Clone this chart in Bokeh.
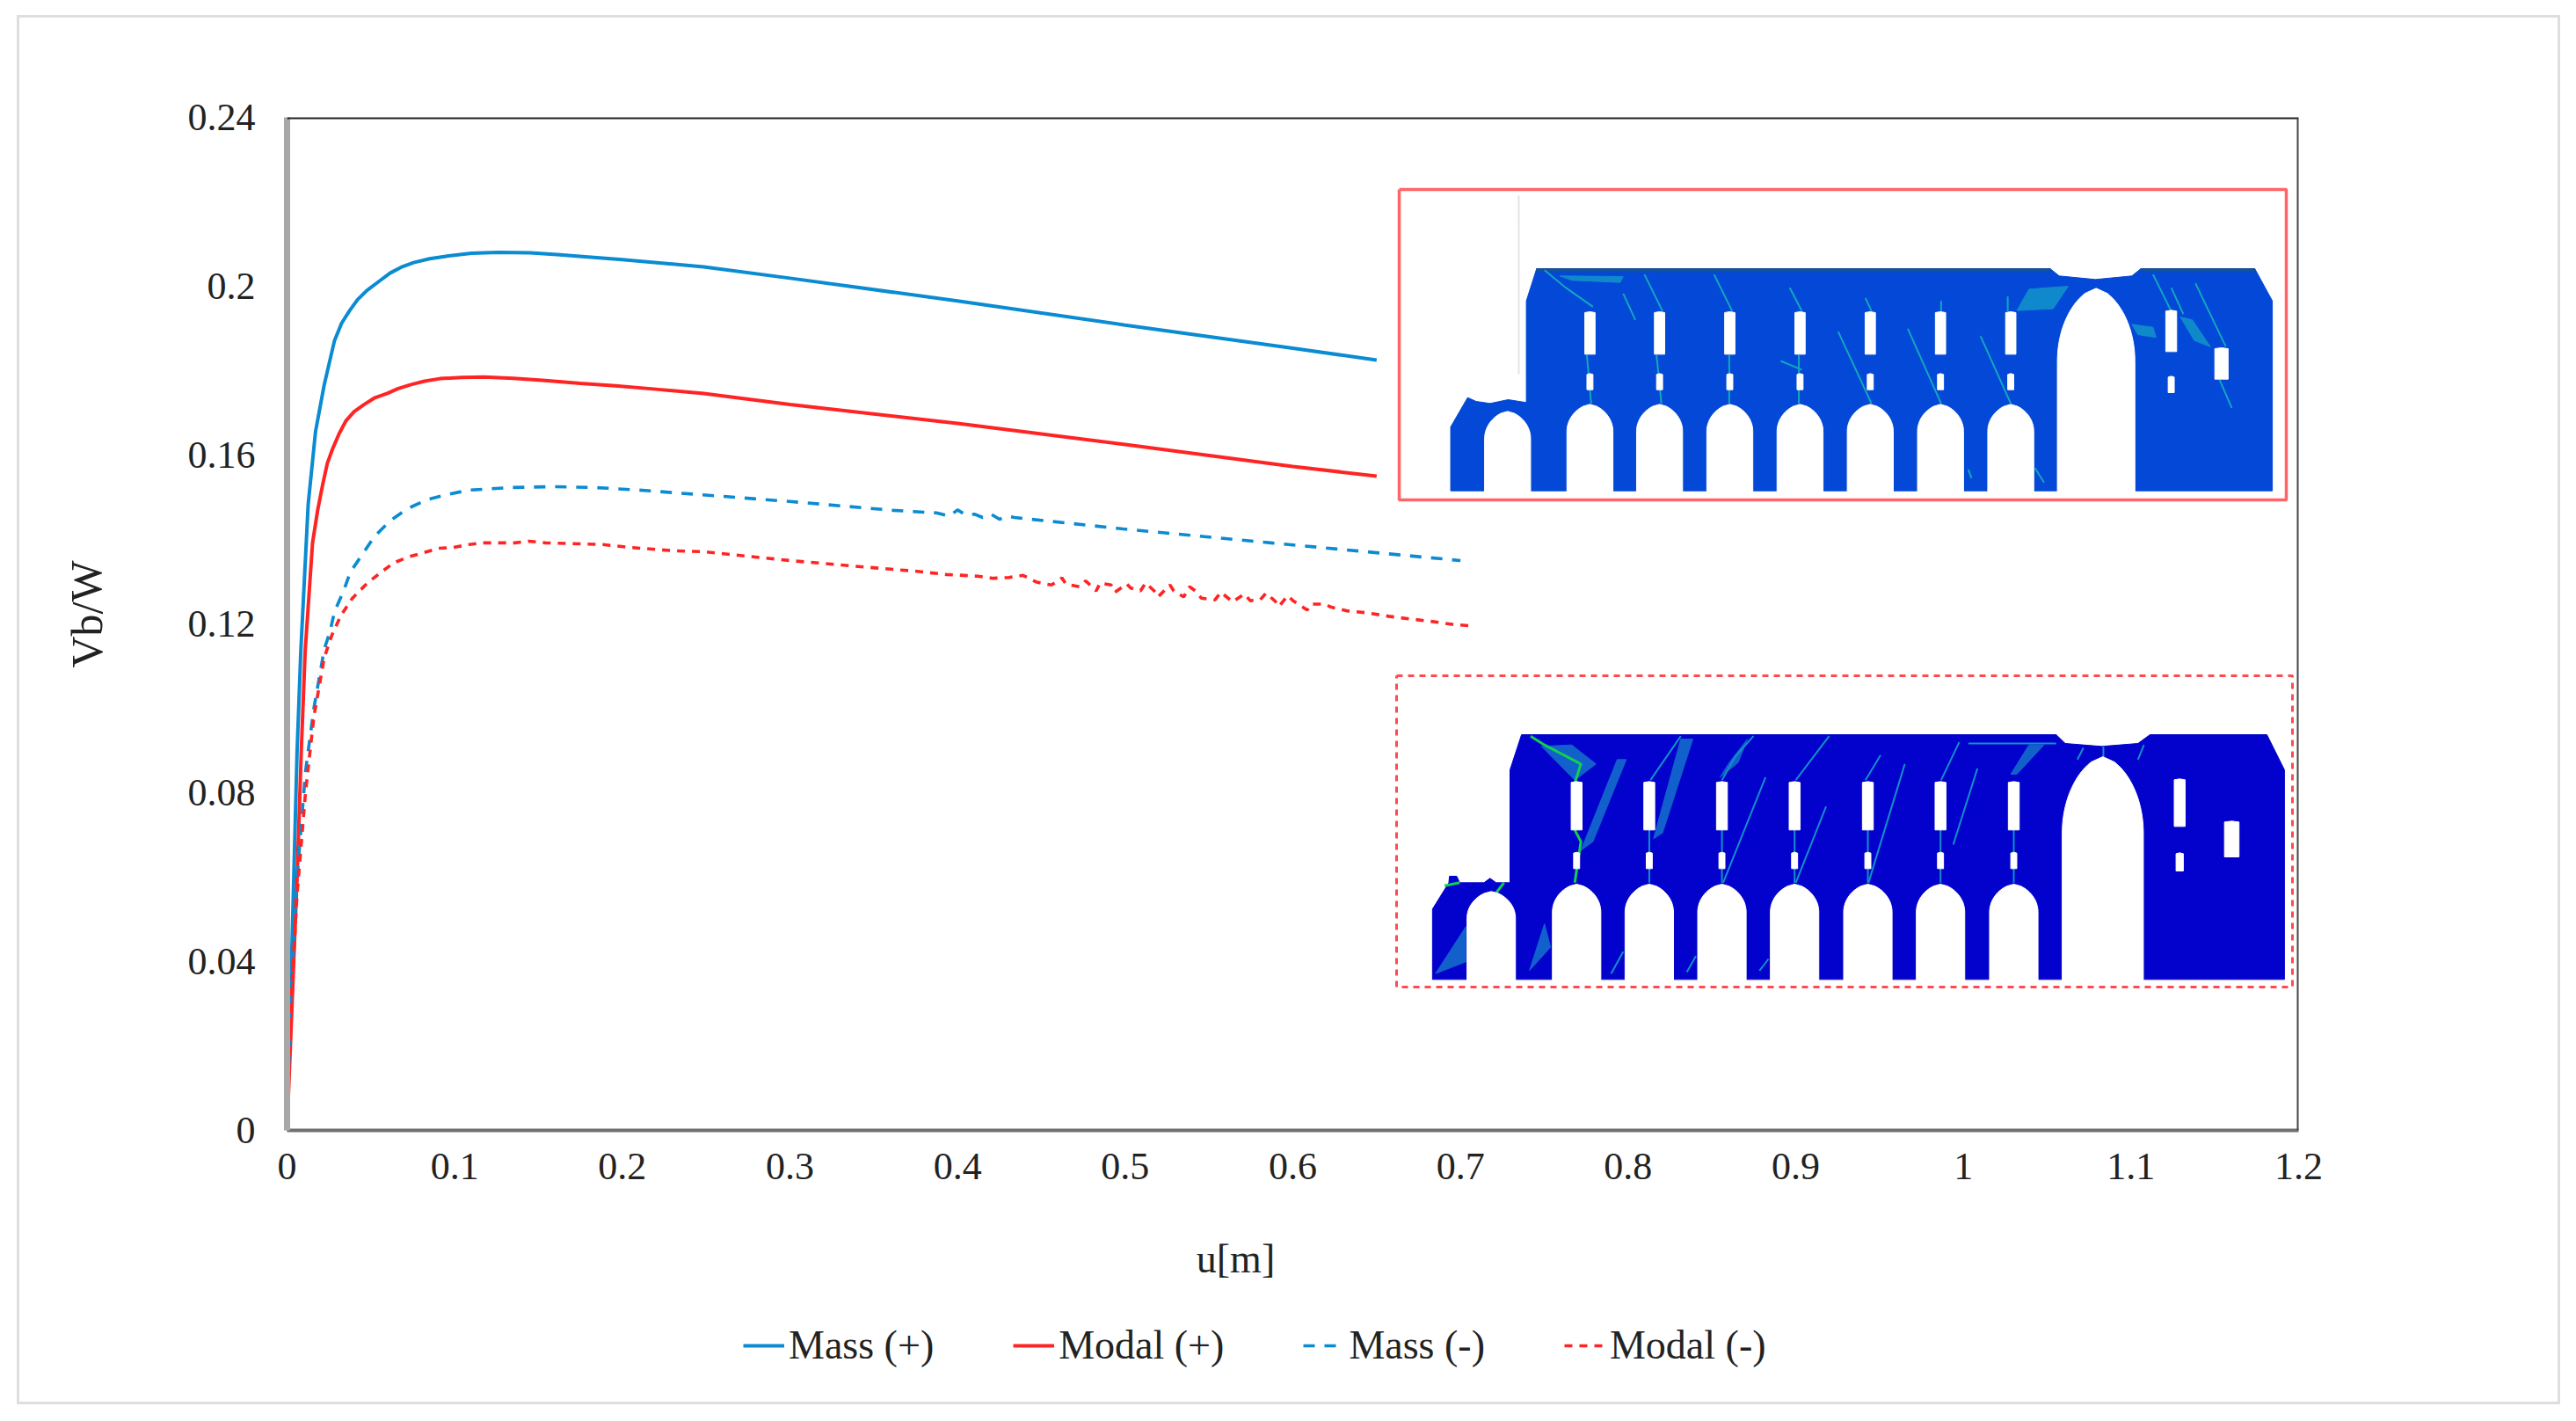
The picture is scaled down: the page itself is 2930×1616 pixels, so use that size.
from bokeh.plotting import figure
from bokeh.layouts import column, row
from bokeh.models import (Range1d, FixedTicker, Span, Label, Legend, LegendItem)
from bokeh.embed import file_html
from bokeh.resources import INLINE

# ---------- chart data ----------
x_ticks = [0, 0.1, 0.2, 0.3, 0.4, 0.5, 0.6, 0.7, 0.8, 0.9, 1, 1.1, 1.2]
x_tick_labels = ["0", "0.1", "0.2", "0.3", "0.4", "0.5", "0.6", "0.7", "0.8", "0.9", "1", "1.1", "1.2"]
y_ticks = [0, 0.04, 0.08, 0.12, 0.16, 0.2, 0.24]
y_tick_labels = ["0", "0.04", "0.08", "0.12", "0.16", "0.2", "0.24"]

mass_plus_u = [0, .002, .004, .006, .0082, .0126, .017, .0222, .0283, .0325, .0371, .042, .0476, .055, .0614, .068, .0755,
               .085, .0948, .11, .126, .145, .161, .2, .2486, .3, .4, .5, .6, .65]
mass_plus_v = [0, .03, .06, .09, .1135, .1483, .1656, .1767, .1871, .1912, .1941, .1968, .199, .2012, .2031, .2045, .2056,
               .2065, .2071, .2078, .208, .2079, .2075, .2063, .2046, .2019, .1965, .1908, .1853, .1825]

modal_plus_u = [0, .003, .006, .0085, .0108, .0152, .0182, .0213, .024, .0272, .031, .0351, .04, .0457, .052, .0598, .066,
                .0739, .082, .0912, .104, .1175, .135, .1524, .175, .196, .22, .2486, .3, .4, .5, .6, .65]
modal_plus_v = [0, .03, .06, .09, .1135, .1392, .1468, .1531, .158, .1615, .165, .1681, .1703, .1719, .1735, .1746, .1757,
                .1767, .1775, .1781, .1784, .1785, .1782, .1777, .177, .1764, .1756, .1746, .172, .1675, .1625, .1573, .155]

mass_minus_u = [0, .002, .006, .011, .016, .0222, .0257, .0283, .0336, .0378, .045, .0519, .0614, .0718, .0834,
                .0949, .1086, .1332, .1584, .184, .2102, .247, .3, .3617, .3875, .395, .40, .405, .41, .415,
                .42, .425, .43, .434, .4987, .587, .70]
mass_minus_v = [0, .03, .06, .085, .1, .114, .1183, .1229, .1277, .1323, .1365, .1406, .1444, .1473, .1494,
                .1506, .1517, .1523, .1525, .1523, .1517, .1506, .149, .1469, .1463, .1455, .147, .1458, .146, .1452,
                .146, .1448, .1455, .1452, .1425, .1392, .135]

modal_minus_u = [0, .002, .006, .011, .016, .0222, .0267, .032, .0388, .0477, .0556, .0634, .0718, .0818, .0902,
                 .0991, .1086, .1164, .1262, .1358, .1447, .154, .17, .1883, .205, .2312, .2486, .3, .3557, .3745,
                 .3933, .412, .4212, .4306, .439, .4471, .456, .4623, .4647, .4728, .4764, .4827, .485, .4916,
                 .4939, .5009, .5033, .5091, .5122, .5173, .5196, .5267, .529, .5349, .5384, .5419, .5454, .5536,
                 .5571, .5641, .5711, .5746, .5805, .584, .5894, .5917, .5969, .6004, .6086, .6109, .6191, .6226,
                 .632, .6448, .6572, .6694, .6823, .6951, .7068]
modal_minus_v = [0, .028, .056, .08, .098, .112, .1173, .1219, .126, .1296, .1321, .1344, .1358, .1369, .1379,
                 .1381, .1388, .1392, .1392, .1392, .1396, .1392, .139, .1388, .1381, .1373, .1371, .135, .1331, .1325,
                 .1317, .1313, .1308, .131, .1315, .1299, .1292, .1309, .1294, .1288, .1302, .1278, .1297, .1292,
                 .1275, .1295, .1285, .1278, .1297, .1278, .1264, .1292, .1278, .1264, .1288, .1278, .1261, .1257,
                 .1275, .1252, .1271, .1255, .1257, .1273, .1254, .1241, .1267, .1254, .1233, .1247, .1247, .124,
                 .1231, .1226, .1218, .1212, .1206, .1199, .1195]

series_names = ["Mass (+)", "Modal (+)", "Mass (-)", "Modal (-)"]
x_title, y_title = "u[m]", "Vb/W"
BLUE, RED = "#0a8bd2", "#ff2424"
FONT = "Liberation Serif"

STRIP_W = 130
p = figure(frame_width=2288, frame_height=1152, min_border_left=304 - STRIP_W, min_border_right=295,
           min_border_top=113, min_border_bottom=85, output_backend="svg", toolbar_location=None,
           x_range=Range1d(0, 1.2), y_range=Range1d(0, 0.24), background_fill_color="white",
           border_fill_color="white", outline_line_color=None)
p.xgrid.visible = False
p.ygrid.visible = False
p.extra_x_ranges["px_x"] = Range1d(326, 2614)
p.extra_y_ranges["px_y"] = Range1d(1285, 133)

for ax, ticks, labs in ((p.xaxis[0], x_ticks, x_tick_labels), (p.yaxis[0], y_ticks, y_tick_labels)):
    ax.ticker = FixedTicker(ticks=ticks)
    ax.major_label_overrides = dict(zip(ticks, labs))
    ax.major_tick_line_color = None
    ax.minor_tick_line_color = None
    ax.major_label_text_font = FONT
    ax.major_label_text_font_size = "44px"
    ax.major_label_text_color = "#222222"
p.xaxis[0].axis_line_color = "#707070"
p.xaxis[0].axis_line_width = 4
p.xaxis[0].major_label_standoff = 20
p.yaxis[0].axis_line_color = "#a8a8a8"
p.yaxis[0].axis_line_width = 7
p.yaxis[0].major_label_standoff = 30
p.add_layout(Span(location=0.24, dimension="width", line_color="#222222", line_width=4))
p.add_layout(Span(location=1.2, dimension="height", line_color="#444444", line_width=4))


# ---------- inset drawings (pictures in the original), in reference pixels ----------
def arch(cx, hw, apex, spring, bottom):
    n = 14
    up = [(cx - hw * (1 - (i / n) ** 2.0) ** 0.62, spring - (spring - apex) * i / n) for i in range(n + 1)]
    down = [(cx + hw * (1 - (i / n) ** 2.0) ** 0.62, spring - (spring - apex) * i / n) for i in range(n, -1, -1)]
    return [(cx - hw, bottom)] + up + down + [(cx + hw, bottom)]


def rect(cx, w, y0, y1):
    return [(cx - w / 2, y1), (cx - w / 2, y0 + 3), (cx, y0), (cx + w / 2, y0 + 3), (cx + w / 2, y1)]


def draw(shapes, color, tr):
    xs, ys = [], []
    for s in shapes:
        pts = [tr(a, b) for a, b in s]
        xs.append([a for a, _ in pts])
        ys.append([b for _, b in pts])
    p.patches(xs, ys, fill_color=color, line_color=color, line_width=1, x_range_name="px_x", y_range_name="px_y")


def streaks(lines, color, width, tr):
    xs, ys = [], []
    for s in lines:
        pts = [tr(a, b) for a, b in s]
        xs.append([a for a, _ in pts])
        ys.append([b for _, b in pts])
    p.multi_line(xs, ys, line_color=color, line_width=width, x_range_name="px_x", y_range_name="px_y")


top = lambda a, b: (1560 + a / 1.452, 190 + b / 3)
bot = lambda a, b: (1560 + a / 1.452, 740 + b / 3)

# top inset
top_outline = [(130, 1103), (130, 885), (158, 785), (172, 798), (195, 805), (225, 792), (255, 802), (255, 455),
               (272, 345), (1120, 345), (1135, 370), (1195, 382), (1255, 370), (1270, 345), (1458, 345), (1487, 455),
               (1487, 1103)]
draw([top_outline], "#0348d6", top)
draw([[(272, 345), (1120, 345), (1120, 355), (272, 355)], [(1270, 345), (1458, 345), (1458, 355), (1270, 355)]],
     "#15509c", top)
draw([[(1085, 415), (1150, 405), (1125, 482), (1065, 488)], [(1335, 510), (1355, 520), (1385, 612), (1358, 590)],
      [(1255, 535), (1290, 545), (1295, 580), (1265, 570)], [(310, 370), (415, 372), (410, 392), (330, 385)]],
     "#1088cc", top)
streaks([[(285, 350), (320, 410), (365, 475)], [(450, 365), (480, 490)], [(565, 365), (595, 490)],
         [(690, 410), (710, 490)], [(815, 445), (825, 490)], [(940, 455), (940, 490)], [(1050, 440), (1050, 490)],
         [(885, 550), (940, 805)], [(1005, 575), (1055, 805)], [(770, 560), (825, 805)], [(355, 640), (362, 805)],
         [(470, 640), (478, 805)], [(590, 640), (590, 805)], [(705, 640), (705, 805)], [(1290, 365), (1320, 490)],
         [(1360, 395), (1410, 610)], [(1400, 725), (1420, 820)], [(1320, 410), (1340, 500)],
         [(1095, 1025), (1110, 1075)], [(985, 1030), (990, 1060)], [(415, 430), (435, 520)], [(675, 660), (710, 690)]],
        "#12a8c0", 2, top)
top_holes = [arch(224, 38, 832, 925, 1110)]
for c in (360, 475, 591, 707, 823, 939, 1055):
    top_holes.append(arch(c, 38, 808, 900, 1110))
    top_holes.append(rect(c, 17, 492, 637))
    top_holes.append(rect(c, 10, 703, 758))
top_holes += [arch(1196, 64, 412, 660, 1110), rect(1320, 18, 487, 628), rect(1320, 10, 712, 768),
              rect(1403, 22, 615, 722)]
draw(top_holes, "white", top)
p.line([1727, 1727], [222, 425], line_color="#e4e4e4", line_width=2, x_range_name="px_x", y_range_name="px_y")

# bottom inset
bot_outline = [(100, 1120), (100, 880), (127, 790), (128, 768), (140, 768), (145, 790), (185, 790), (195, 775),
               (205, 790), (228, 790), (228, 405), (247, 285), (1130, 285), (1145, 315), (1205, 325), (1265, 315),
               (1285, 285), (1478, 285), (1507, 405), (1507, 1120)]
draw([bot_outline], "#0202cc", bot)
draw([[(280, 325), (330, 320), (370, 385), (335, 440)], [(405, 370), (420, 370), (365, 650), (345, 680)],
      [(510, 300), (530, 300), (480, 620), (465, 640)], [(105, 1100), (155, 940), (155, 1060)],
      [(260, 1090), (285, 930), (295, 1010)], [(1085, 320), (1110, 320), (1065, 420), (1055, 420)],
      [(620, 300), (590, 380), (575, 430), (605, 380)]], "#1260cc", bot)
streaks([[(262, 290), (285, 320), (345, 385), (335, 450)], [(335, 610), (345, 650), (335, 790)], [(120, 800), (145, 790)],
         [(205, 825), (218, 790)]], "#10d050", 3, bot)
streaks([[(630, 290), (600, 360), (578, 440)], [(510, 290), (460, 440)], [(755, 290), (700, 440)],
         [(840, 355), (815, 440)], [(970, 310), (940, 440)], [(985, 315), (1130, 315)], [(650, 430), (580, 790)],
         [(750, 530), (700, 790)], [(880, 385), (820, 790)], [(1000, 400), (960, 660)], [(458, 610), (458, 790)],
         [(578, 610), (578, 790)], [(698, 610), (698, 790)], [(819, 610), (819, 790)], [(939, 610), (939, 790)],
         [(1060, 610), (1060, 790)], [(415, 1025), (395, 1100)], [(535, 1040), (520, 1095)], [(655, 1050), (640, 1090)],
         [(1208, 325), (1208, 360)], [(1175, 330), (1165, 370)], [(1275, 320), (1265, 370)]], "#1190c8", 2, bot)
bot_holes = [arch(197, 40, 820, 910, 1126)]
for c in (338, 458, 578, 698, 819, 939, 1060):
    bot_holes.append(arch(c, 40, 795, 890, 1126))
    bot_holes.append(rect(c, 18, 445, 610))
    bot_holes.append(rect(c, 10, 686, 742))
bot_holes += [arch(1207, 67, 360, 620, 1126), rect(1334, 18, 436, 598), rect(1334, 12, 688, 750),
              rect(1420, 24, 580, 702)]
draw(bot_holes, "white", bot)

# inset frames
FRAME = "#ff6468"
p.line([1591, 2600, 2600, 1591, 1591], [215, 215, 568, 568, 215], line_color=FRAME, line_width=3.5,
       x_range_name="px_x", y_range_name="px_y")
p.line([1588, 2607, 2607, 1588, 1588], [768, 768, 1122, 1122, 768], line_color="#ff4a50", line_width=3,
       line_dash="7 6", x_range_name="px_x", y_range_name="px_y")

# ---------- curves ----------
styles = [dict(line_color=BLUE, line_width=4), dict(line_color=RED, line_width=4),
          dict(line_color=BLUE, line_width=3.6, line_dash="13 11"), dict(line_color=RED, line_width=3.6, line_dash="9 8")]
curves = [(mass_plus_u, mass_plus_v), (modal_plus_u, modal_plus_v), (mass_minus_u, mass_minus_v),
          (modal_minus_u, modal_minus_v)]
for (u, v), st in zip(curves, styles):
    p.line(u, v, **st)

# strip left of the chart, holds the (off-centre) y title
s = figure(width=STRIP_W, height=1350, min_border=0, x_axis_type=None, y_axis_type=None, output_backend="svg",
           toolbar_location=None, x_range=Range1d(22, 22 + STRIP_W), y_range=Range1d(1370, 20), outline_line_color=None,
           background_fill_color="white", border_fill_color="white")
s.xgrid.visible = False
s.ygrid.visible = False
s.add_layout(Label(x=98, y=682, text=y_title, text_font=FONT, text_font_size="50px", text_color="#222222",
                   text_align="center", text_baseline="middle", angle=1.5708))

# strip under the chart: x title and legend; the series ranges keep their lines out of view here
q = figure(frame_width=2288, frame_height=224, min_border_left=304, min_border_right=295, min_border_top=0,
           min_border_bottom=0, x_axis_type=None, y_axis_type=None, output_backend="svg",
           toolbar_location=None, x_range=Range1d(326, 2614), y_range=Range1d(1594, 1370), outline_line_color=None,
           background_fill_color="white", border_fill_color="white")
q.xgrid.visible = False
q.ygrid.visible = False
handles = [q.line(u, v, **st) for (u, v), st in zip(curves, styles)]
legend = Legend(items=[LegendItem(label=n, renderers=[r]) for n, r in zip(series_names, handles)],
                orientation="horizontal", location=(519, 38), border_line_color=None, background_fill_alpha=0,
                label_text_font=FONT, label_text_font_size="46px", label_text_color="#222222",
                glyph_width=47, glyph_height=30, label_standoff=5, spacing=90, padding=0, margin=0)
q.add_layout(legend)
q.add_layout(Label(x=1405, y=1431, text=x_title, text_font=FONT, text_font_size="46px", text_color="#222222",
                   text_align="center", text_baseline="middle"))

page = column(row(s, p, spacing=0), q, spacing=0, margin=(20, 0, 0, 22), styles={"outline": "3px solid #dedede"})

open("out.html", "w").write(file_html(page, INLINE))
